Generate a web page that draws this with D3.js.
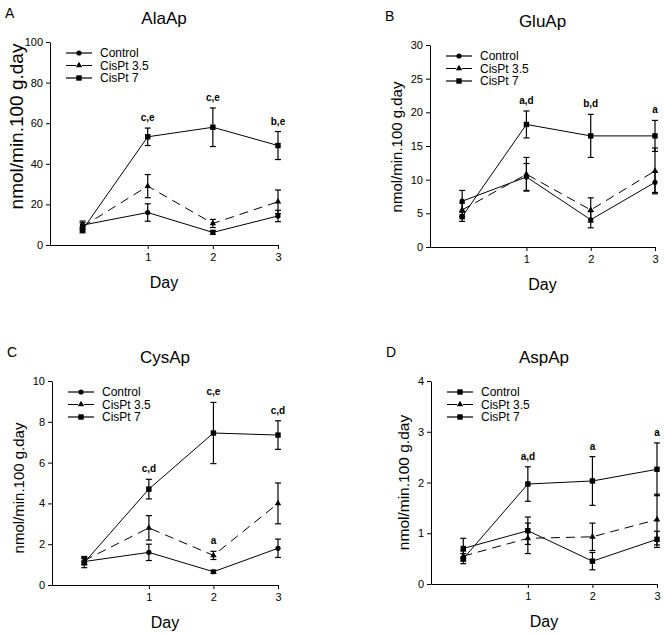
<!DOCTYPE html>
<html>
<head>
<meta charset="utf-8">
<script src="https://cdn.jsdelivr.net/npm/d3@7"></script>
<style>
  body { margin: 0; background: #fff; }
  text { font-family: "Liberation Sans", Arial, sans-serif; fill: #000; }
</style>
</head>
<body>
<script>
const seriesNames = ["Control", "CisPt 3.5", "CisPt 7"];
const days = [0, 1, 2, 3];
const dayTicks = [1, 2, 3];

// A - AlaAp
const alaTicks = [0, 20, 40, 60, 80, 100];
const alaControl = [9.8, 16, 6.2, 14.3];
const alaControlErr = [2, 4.3, 1, 2.8];
const alaCis35 = [9, 29, 10.6, 21.3];
const alaCis35Err = [2, 5.7, 2, 5.8];
const alaCis7 = [7.5, 53.3, 58, 49];
const alaCis7Err = [1.5, 4.3, 9.5, 6.9];
const alaNoteDays = [1, 2, 3];
const alaNoteSeries = [2, 2, 2];
const alaNoteText = ["c,e", "c,e", "b,e"];

// B - GluAp
const gluTicks = [0, 5, 10, 15, 20, 25, 30];
const gluControl = [6.8, 10.4, 4.05, 9.6];
const gluControlErr = [1.6, 2.0, 1.2, 1.5];
const gluCis35 = [5.5, 10.8, 5.5, 11.3];
const gluCis35Err = [1.0, 2.5, 1.8, 3.4];
const gluCis7 = [4.5, 18.2, 16.5, 16.5];
const gluCis7Err = [0.7, 2.0, 3.2, 2.3];
const gluNoteDays = [1, 2, 3];
const gluNoteSeries = [2, 2, 2];
const gluNoteText = ["a,d", "b,d", "a"];

// C - CysAp
const cysTicks = [0, 2, 4, 6, 8, 10];
const cysControl = [1.15, 1.6, 0.65, 1.8];
const cysControlErr = [0.15, 0.4, 0.08, 0.45];
const cysCis35 = [1.2, 2.8, 1.45, 4.0];
const cysCis35Err = [0.2, 0.6, 0.2, 1.0];
const cysCis7 = [1.1, 4.7, 7.45, 7.35];
const cysCis7Err = [0.25, 0.48, 1.5, 0.7];
const cysNoteDays = [1, 2, 3, 2];
const cysNoteSeries = [2, 2, 2, 1];
const cysNoteText = ["c,d", "c,e", "c,d", "a"];

// D - AspAp
const aspTicks = [0, 1, 2, 3, 4];
const aspControl = [0.7, 1.05, 0.45, 0.88];
const aspControlErr = [0.2, 0.27, 0.17, 0.16];
const aspCis35 = [0.55, 0.9, 0.93, 1.27];
const aspCis35Err = [0.1, 0.3, 0.27, 0.5];
const aspCis7 = [0.5, 1.97, 2.03, 2.26];
const aspCis7Err = [0.1, 0.34, 0.48, 0.52];
const aspNoteDays = [1, 2, 3];
const aspNoteSeries = [2, 2, 2];
const aspNoteText = ["a,d", "a", "a"];

const panels = [
  { letter: "A", title: "AlaAp", ticks: alaTicks, left: 50, right: 278, top: 42, bottom: 245,
    labelSize: 19, labelX: -27, labelDy: -17,
    values: [alaControl, alaCis35, alaCis7], errs: [alaControlErr, alaCis35Err, alaCis7Err],
    markers: ["circle", "triangle", "square"],
    notes: { days: alaNoteDays, series: alaNoteSeries, text: alaNoteText } },
  { letter: "B", title: "GluAp", ticks: gluTicks, left: 430, right: 655, top: 45, bottom: 247,
    labelSize: 15, labelX: -28.5, labelDy: 1,
    values: [gluControl, gluCis35, gluCis7], errs: [gluControlErr, gluCis35Err, gluCis7Err],
    markers: ["circle", "triangle", "square"],
    notes: { days: gluNoteDays, series: gluNoteSeries, text: gluNoteText } },
  { letter: "C", title: "CysAp", ticks: cysTicks, left: 52, right: 278, top: 381, bottom: 585,
    labelSize: 15, labelX: -28.5, labelDy: 5,
    values: [cysControl, cysCis35, cysCis7], errs: [cysControlErr, cysCis35Err, cysCis7Err],
    markers: ["circle", "triangle", "square"],
    notes: { days: cysNoteDays, series: cysNoteSeries, text: cysNoteText } },
  { letter: "D", title: "AspAp", ticks: aspTicks, left: 431, right: 657, top: 381, bottom: 584,
    labelSize: 15.5, labelX: -22.5, labelDy: 0,
    values: [aspControl, aspCis35, aspCis7], errs: [aspControlErr, aspCis35Err, aspCis7Err],
    markers: ["square", "triangle", "square"],
    notes: { days: aspNoteDays, series: aspNoteSeries, text: aspNoteText } }
];

const dashes = [null, "9,6", null];

const svg = d3.select("body").append("svg")
  .attr("width", 664)
  .attr("height", 636);

svg.append("rect").attr("width", 664).attr("height", 636).attr("fill", "#fff");

function drawMarker(g, type, cx, cy) {
  if (type === "circle") {
    g.append("circle").attr("cx", cx).attr("cy", cy).attr("r", 2.6).attr("fill", "#000");
  } else if (type === "square") {
    g.append("rect").attr("x", cx - 2.7).attr("y", cy - 2.7)
      .attr("width", 5.4).attr("height", 5.4).attr("fill", "#000");
  } else {
    g.append("path").attr("d", d3.symbol(d3.symbolTriangle, 18)())
      .attr("transform", `translate(${cx},${cy})`).attr("fill", "#000");
  }
}

function drawPanel(p) {
  const g = svg.append("g");
  const x = d3.scaleLinear().domain([-0.5, 3]).range([p.left, p.right]);
  const y = d3.scaleLinear().domain([0, d3.max(p.ticks)]).range([p.bottom, p.top]);

  // axes
  const xAxis = g.append("g")
    .attr("transform", `translate(0,${p.bottom})`)
    .call(d3.axisBottom(x).tickValues(dayTicks).tickFormat(d => d)
      .tickSize(4).tickSizeOuter(0).tickPadding(4));
  const yAxis = g.append("g")
    .attr("transform", `translate(${p.left},0)`)
    .call(d3.axisLeft(y).tickValues(p.ticks).tickFormat(d => d)
      .tickSize(4).tickSizeOuter(0).tickPadding(3));
  [xAxis, yAxis].forEach(a => {
    a.selectAll("text").style("font-family", "Liberation Sans, Arial, sans-serif").style("font-size", "11px");
    a.selectAll("path, line").attr("stroke", "#000");
  });

  // titles and labels
  const mid = (p.left + p.right) / 2;
  g.append("text").attr("x", p.left - 45).attr("y", p.top - 24)
    .style("font-size", "14px").text(p.letter);
  g.append("text").attr("x", mid).attr("y", p.top - 18).attr("text-anchor", "middle")
    .style("font-size", "17px").text(p.title);
  g.append("text").attr("x", mid).attr("y", p.bottom + 43).attr("text-anchor", "middle")
    .style("font-size", "16px").text("Day");
  g.append("text")
    .attr("transform", `translate(${p.left + p.labelX},${(p.top + p.bottom) / 2 + p.labelDy}) rotate(-90)`)
    .attr("text-anchor", "middle")
    .style("font-size", p.labelSize + "px")
    .text("nmol/min.100 g.day");

  // series
  p.values.forEach((vals, s) => {
    const pts = days.map((d, i) => ({ day: d, v: vals[i], e: p.errs[s][i] }));

    g.append("path")
      .datum(pts)
      .attr("fill", "none")
      .attr("stroke", "#000")
      .attr("stroke-width", 1)
      .attr("stroke-dasharray", dashes[s])
      .attr("d", d3.line().x(d => x(d.day)).y(d => y(d.v)));

    pts.forEach(d => {
      const cx = x(d.day), y1 = y(d.v + d.e), y2 = y(Math.max(0, d.v - d.e));
      g.append("line").attr("x1", cx).attr("x2", cx).attr("y1", y1).attr("y2", y2)
        .attr("stroke", "#000").attr("stroke-width", 1.2);
      [y1, y2].forEach(yy => {
        g.append("line").attr("x1", cx - 3).attr("x2", cx + 3).attr("y1", yy).attr("y2", yy)
          .attr("stroke", "#000").attr("stroke-width", 1.2);
      });
      drawMarker(g, p.markers[s], cx, y(d.v));
    });
  });

  // significance letters
  p.notes.days.forEach((d, i) => {
    const s = p.notes.series[i];
    const top = p.values[s][d] + p.errs[s][d];
    g.append("text")
      .attr("x", x(d)).attr("y", y(top) - 7)
      .attr("text-anchor", "middle")
      .style("font-size", "10px").style("font-weight", "bold")
      .text(p.notes.text[i]);
  });

  // legend
  seriesNames.forEach((name, s) => {
    const ly = p.top + 11 + s * 12.5;
    const lx = p.left + 16;
    g.append("line").attr("x1", lx).attr("x2", lx + 26).attr("y1", ly).attr("y2", ly)
      .attr("stroke", "#000").attr("stroke-width", 1.2)
      .attr("stroke-dasharray", dashes[s] ? "10,6" : null);
    drawMarker(g, p.markers[s], lx + 13, ly);
    g.append("text").attr("x", lx + 34).attr("y", ly).attr("dy", "0.35em")
      .style("font-size", "12px").text(name);
  });
}

panels.forEach(drawPanel);
</script>
</body>
</html>
